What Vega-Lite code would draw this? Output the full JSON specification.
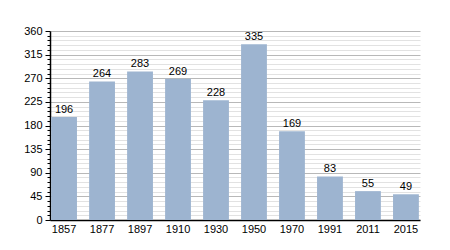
{
  "$schema": "https://vega.github.io/schema/vega-lite/v6.json",
  "width": 370,
  "height": 189,
  "autosize": {"type": "none"},
  "padding": {"left": 50, "top": 31, "right": 30, "bottom": 30},
  "background": "white",
  "data": {"values": [
    {"year": "1857", "pop": 196},
    {"year": "1877", "pop": 264},
    {"year": "1897", "pop": 283},
    {"year": "1910", "pop": 269},
    {"year": "1930", "pop": 228},
    {"year": "1950", "pop": 335},
    {"year": "1970", "pop": 169},
    {"year": "1991", "pop": 83},
    {"year": "2011", "pop": 55},
    {"year": "2015", "pop": 49}
  ]},
  "config": {"view": {"stroke": null}, "font": "Liberation Sans"},
  "encoding": {
    "x": {"field": "year", "type": "ordinal", "sort": null, "title": null,
      "scale": {"paddingInner": 0.32, "paddingOuter": 0.03},
      "axis": {"labelAngle": 0, "ticks": false, "domainColor": "#000", "domainWidth": 1.5, "labelFontSize": 11, "labelColor": "#000", "labelPadding": 3}},
    "y": {"field": "pop", "type": "quantitative", "title": null,
      "scale": {"domain": [0, 360], "nice": false},
      "axis": {
        "values": [0,9,18,27,36,45,54,63,72,81,90,99,108,117,126,135,144,153,162,171,180,189,198,207,216,225,234,243,252,261,270,279,288,297,306,315,324,333,342,351,360],
        "labelExpr": "datum.value % 45 === 0 ? datum.label : ''",
        "grid": true,
        "gridColor": {"condition": {"test": "datum.value % 45 === 0", "value": "#b8b8b8"}, "value": "#e2e2e2"},
        "gridWidth": 1,
        "tickColor": "#000",
        "tickSize": {"condition": {"test": "datum.value % 45 === 0", "value": 5}, "value": 3},
        "domainColor": "#000",
        "domainWidth": 1.5,
        "labelFontSize": 11,
        "labelColor": "#000",
        "labelPadding": 3
      }}
  },
  "layer": [
    {"mark": {"type": "bar", "color": "#9db4d0"}},
    {"mark": {"type": "text", "dy": -7, "fontSize": 11, "color": "#000"}, "encoding": {"text": {"field": "pop", "type": "quantitative"}}}
  ]
}
